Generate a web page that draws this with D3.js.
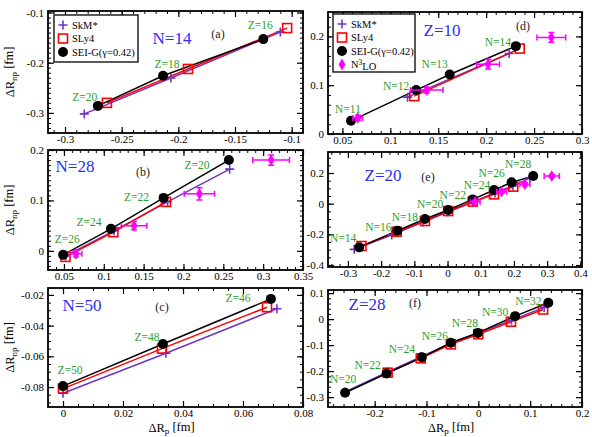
<!DOCTYPE html>
<html>
<head>
<meta charset="utf-8">
<script src="https://cdn.jsdelivr.net/npm/d3@7"></script>
<style>
  body { margin: 0; background: #fff; }
  text { font-family: "Liberation Serif", "DejaVu Serif", serif; }
</style>
</head>
<body>
<div class="chart"></div>
<script>
// SVG size
var svgWidth = 592;
var svgHeight = 437;

// ---- data: [dRp, dRnp] ----
// (a) N=14
var aSkm = [[-0.283, -0.302], [-0.2065, -0.2305], [-0.110, -0.139]];
var aSly = [[-0.263, -0.280], [-0.1915, -0.2125], [-0.104, -0.131]];
var aSei = [[-0.271, -0.286], [-0.2135, -0.226], [-0.125, -0.153]];
var aTags = ["Z=20", "Z=18", "Z=16"];
var aXTicks = [-0.3, -0.25, -0.2, -0.15, -0.1];
var aYTicks = [-0.3, -0.2, -0.1];

// (b) N=28
var bSkm = [[0.052, -0.010], [0.113, 0.040], [0.180, 0.097], [0.258, 0.162]];
var bSly = [[0.052, -0.012], [0.112, 0.037], [0.178, 0.097]];
var bSei = [[0.049, -0.008], [0.109, 0.0436], [0.175, 0.105], [0.257, 0.180]];
// [x, y, xerr, yerr]
var bN3lo = [[0.065, -0.006, 0.0075, 0.006], [0.138, 0.050, 0.016, 0.008], [0.220, 0.113, 0.019, 0.012], [0.310, 0.180, 0.023, 0.010]];
var bTags = ["Z=26", "Z=24", "Z=22", "Z=20"];
var bXTicks = [0.05, 0.1, 0.15, 0.2, 0.25, 0.3, 0.35];
var bYTicks = [0, 0.1, 0.2];

// (c) N=50
var cSkm = [[0, -0.084], [0.0343, -0.058], [0.0713, -0.029]];
var cSly = [[0, -0.081], [0.033, -0.055], [0.068, -0.028]];
var cSei = [[0, -0.0794], [0.0333, -0.052], [0.0693, -0.0226]];
var cTags = ["Z=50", "Z=48", "Z=46"];
var cXTicks = [0, 0.02, 0.04, 0.06, 0.08];
var cYTicks = [-0.08, -0.06, -0.04, -0.02];

// (d) Z=10
var dSkm = [[0.118, 0.0755], [0.224, 0.165]];
var dSly = [[0.125, 0.0776], [0.235, 0.175]];
var dSei = [[0.059, 0.027], [0.127, 0.090], [0.162, 0.122], [0.231, 0.180]];
var dN3lo = [[0.066, 0.033, 0.005, 0.006], [0.138, 0.090, 0.017, 0.006], [0.202, 0.143, 0.012, 0.010], [0.268, 0.198, 0.015, 0.010]];
var dTags = ["N=11", "N=12", "N=13", "N=14"];
var dXTicks = [0.05, 0.1, 0.15, 0.2, 0.25, 0.3];
var dYTicks = [0, 0.1, 0.2];

// (e) Z=20
var eSkm = [[-0.281, -0.298], [-0.168, -0.204], [-0.074, -0.120], [0.001, -0.054], [0.077, 0.011], [0.143, 0.070], [0.197, 0.115], [0.248, 0.167]];
var eSly = [[-0.259, -0.276], [-0.153, -0.183], [-0.068, -0.113], [0.002, -0.048], [0.076, 0.013], [0.140, 0.061], [0.198, 0.111]];
var eSei = [[-0.266, -0.285], [-0.151, -0.176], [-0.068, -0.100], [0.002, -0.041], [0.076, 0.028], [0.140, 0.089], [0.193, 0.139], [0.258, 0.180]];
var eN3lo = [[0.083, 0.013, 0.015, 0.010], [0.163, 0.078, 0.015, 0.010], [0.233, 0.126, 0.015, 0.010], [0.314, 0.180, 0.023, 0.010]];
var eTags = ["N=14", "N=16", "N=18", "N=20", "N=22", "N=24", "N=26", "N=28"];
var eXTicks = [-0.3, -0.2, -0.1, 0, 0.1, 0.2, 0.3, 0.4];
var eYTicks = [-0.4, -0.2, 0, 0.2];

// (f) Z=28
var fSkm = [[-0.257, -0.280], [-0.175, -0.203], [-0.111, -0.145], [-0.053, -0.093], [0.0, -0.053], [0.064, -0.004], [0.127, 0.045]];
var fSly = [[-0.175, -0.206], [-0.111, -0.151], [-0.053, -0.097], [0.0, -0.058], [0.063, -0.010], [0.125, 0.037]];
var fSei = [[-0.257, -0.283], [-0.177, -0.209], [-0.109, -0.147], [-0.053, -0.091], [-0.001, -0.053], [0.071, 0.0115], [0.135, 0.063]];
var fTags = ["N=20", "N=22", "N=24", "N=26", "N=28", "N=30", "N=32"];
var fXTicks = [-0.2, -0.1, 0, 0.1, 0.2];
var fYTicks = [-0.3, -0.2, -0.1, 0, 0.1];

// colours
var cSkmCol = "#6f35c8", cSlyCol = "#ff0000", cSeiCol = "#000000", cN3loCol = "#ff00ff";
var tagCol = "#2ca02c", titleCol = "#2b2bff";

// panel layout (pixel boxes and axis ranges)
var panels = [
  { name: "N=14", tag: "(a)", box: [48, 11, 303, 133], xd: [-0.315, -0.09], yd: [-0.34, -0.097],
    xt: aXTicks, yt: aYTicks, xm: 0.01, ym: 0.01, skm: aSkm, sly: aSly, sei: aSei, n3lo: null,
    tags: aTags, off: [[-13, -9], [4, -12], [-3, -14]], title: [124, 27], lab: [170, 23], legend: [54, 15, 84, 47], ytitle: true },
  { name: "N=28", tag: "(b)", box: [48, 150, 303, 270], xd: [0.03, 0.35], yd: [-0.038, 0.2],
    xt: bXTicks, yt: bYTicks, xm: 0.01, ym: 0.01, skm: bSkm, sly: bSly, sei: bSei, n3lo: bN3lo,
    tags: bTags, off: [[4, -16], [-22, -7], [-27, -1], [-32, 5]], title: [27, 16], lab: [95, 22], ytitle: true },
  { name: "N=50", tag: "(c)", box: [48, 288, 303, 407], xd: [-0.005, 0.08], yd: [-0.093, -0.0155],
    xt: cXTicks, yt: cYTicks, xm: 0.005, ym: 0.005, skm: cSkm, sly: cSly, sei: cSei, n3lo: null,
    tags: cTags, off: [[7, -16], [-16, -7], [-33, -1]], title: [34, 17], lab: [114, 19], ytitle: true, xtitle: true },
  { name: "Z=10", tag: "(d)", box: [328, 12, 582, 134], xd: [0.035, 0.3], yd: [0, 0.25],
    xt: dXTicks, yt: dYTicks, xm: 0.01, ym: 0.02, skm: dSkm, sly: dSly, sei: dSei, n3lo: dN3lo,
    tags: dTags, off: [[-3, -12], [-20, -4], [-15, -10], [-18, -4]], title: [114, 18], lab: [195, 14], legend: [333, 14, 82, 58] },
  { name: "Z=20", tag: "(e)", box: [328, 152, 582, 267], xd: [-0.36, 0.405], yd: [-0.413, 0.337],
    xt: eXTicks, yt: eYTicks, xm: 0.025, ym: 0.05, skm: eSkm, sly: eSly, sei: eSei, n3lo: eN3lo,
    tags: eTags, off: [[-16, -9], [-19, -4], [-20, -2], [-18, -6], [-20, -4], [-17, -5], [-20, -9], [-15, -12]], title: [55, 23], lab: [100, 25] },
  { name: "Z=28", tag: "(f)", box: [328, 290, 582, 407], xd: [-0.29, 0.2], yd: [-0.338, 0.112],
    xt: fXTicks, yt: fYTicks, xm: 0.02, ym: 0.02, skm: fSkm, sly: fSly, sei: fSei, n3lo: null,
    tags: fTags, off: [[-2, -14], [-19, -8], [-20, -8], [-16, -7], [-13, -10], [-20, -4], [-20, -2]], title: [39, 14], lab: [87, 13], xtitle: true }
];

var svg = d3.select(".chart")
  .append("svg")
  .attr("width", svgWidth)
  .attr("height", svgHeight);

var fmt = function(d) { return String(+d.toFixed(3)); };

function minorTicks(dom, step) {
  var lo = Math.min(dom[0], dom[1]), hi = Math.max(dom[0], dom[1]);
  return d3.range(Math.ceil(lo / step - 1e-6), Math.floor(hi / step + 1e-6) + 1)
    .map(function(i) { return +(i * step).toFixed(5); });
}

function drawMarker(g, kind, cx, cy) {
  if (kind === "skm") {
    g.append("path").attr("d", `M${cx - 4.5},${cy}H${cx + 4.5}M${cx},${cy - 4.5}V${cy + 4.5}`)
      .attr("stroke", cSkmCol).attr("stroke-width", 1.6).attr("fill", "none");
  } else if (kind === "sly") {
    g.append("rect").attr("x", cx - 4.5).attr("y", cy - 4.5).attr("width", 9).attr("height", 9)
      .attr("fill", "none").attr("stroke", cSlyCol).attr("stroke-width", 1.6);
  } else if (kind === "sei") {
    g.append("circle").attr("cx", cx).attr("cy", cy).attr("r", 5).attr("fill", cSeiCol);
  } else {
    g.append("path").attr("d", d3.symbol(d3.symbolDiamond, 40)())
      .attr("transform", `translate(${cx},${cy})`).attr("fill", cN3loCol);
  }
}

panels.forEach(function(p) {
  var x = d3.scaleLinear().domain(p.xd).range([p.box[0], p.box[2]]);
  var y = d3.scaleLinear().domain(p.yd).range([p.box[3], p.box[1]]);
  var g = svg.append("g");

  // axes: major + minor ticks on all four sides, pointing in
  var sides = [
    [d3.axisBottom, x, `translate(0,${p.box[3]})`, p.xt, p.xm, p.xd, true, 2],
    [d3.axisTop, x, `translate(0,${p.box[1]})`, p.xt, p.xm, p.xd, false, 2],
    [d3.axisLeft, y, `translate(${p.box[0]},0)`, p.yt, p.ym, p.yd, true, 4],
    [d3.axisRight, y, `translate(${p.box[2]},0)`, p.yt, p.ym, p.yd, false, 4]
  ];
  sides.forEach(function(s) {
    g.append("g").attr("transform", s[2])
      .call(s[0](s[1]).tickValues(minorTicks(s[5], s[4])).tickSize(-3).tickFormat(""))
      .call(function(sel) { sel.select(".domain").remove(); sel.selectAll("line").attr("stroke-width", 1); });
    g.append("g").attr("transform", s[2])
      .call(s[0](s[1]).tickValues(s[3]).tickSize(-6).tickPadding(s[7]).tickFormat(s[6] ? fmt : ""))
      .call(function(sel) {
        sel.select(".domain").remove();
        sel.selectAll("line").attr("stroke-width", 1.2);
        sel.selectAll("text").attr("fill", "#000").attr("font-size", 11)
          .attr("font-family", "'Liberation Serif', serif");
      });
  });

  // frame
  g.append("rect").attr("x", p.box[0]).attr("y", p.box[1])
    .attr("width", p.box[2] - p.box[0]).attr("height", p.box[3] - p.box[1])
    .attr("fill", "none").attr("stroke", "#000").attr("stroke-width", 1.8);

  var line = d3.line().x(function(d) { return x(d[0]); }).y(function(d) { return y(d[1]); });
  [[p.skm, cSkmCol], [p.sly, cSlyCol], [p.sei, cSeiCol]].forEach(function(s) {
    g.append("path").datum(s[0]).attr("d", line)
      .attr("fill", "none").attr("stroke", s[1]).attr("stroke-width", 1.5);
  });

  p.skm.forEach(function(d) { drawMarker(g, "skm", x(d[0]), y(d[1])); });
  p.sly.forEach(function(d) { drawMarker(g, "sly", x(d[0]), y(d[1])); });
  p.sei.forEach(function(d) { drawMarker(g, "sei", x(d[0]), y(d[1])); });

  if (p.n3lo) {
    p.n3lo.forEach(function(d) {
      var cx = x(d[0]), cy = y(d[1]);
      var x0 = x(d[0] - d[2]), x1 = x(d[0] + d[2]);
      var y0 = y(d[1] - d[3]), y1 = y(d[1] + d[3]);
      g.append("path")
        .attr("d", `M${x0},${cy}H${x1}M${x0},${cy - 3}V${cy + 3}M${x1},${cy - 3}V${cy + 3}` +
          `M${cx},${y0}V${y1}M${cx - 3},${y0}H${cx + 3}M${cx - 3},${y1}H${cx + 3}`)
        .attr("stroke", cN3loCol).attr("stroke-width", 1.5).attr("fill", "none");
      drawMarker(g, "n3lo", cx, cy);
    });
  }

  // nucleus labels next to the SEI-G points
  p.tags.forEach(function(t, i) {
    g.append("text")
      .attr("x", x(p.sei[i][0]) + p.off[i][0])
      .attr("y", y(p.sei[i][1]) + p.off[i][1])
      .attr("dy", "0.35em")
      .attr("text-anchor", "middle")
      .attr("font-size", 11.5)
      .attr("fill", tagCol)
      .text(t);
  });

  g.append("text")
    .attr("x", p.box[0] + p.title[0]).attr("y", p.box[1] + p.title[1])
    .attr("dy", "0.35em").attr("text-anchor", "middle")
    .attr("font-size", 17).attr("fill", titleCol).text(p.name);

  g.append("text")
    .attr("x", p.box[0] + p.lab[0]).attr("y", p.box[1] + p.lab[1])
    .attr("dy", "0.35em").attr("text-anchor", "middle")
    .attr("font-size", 12).attr("fill", "#222").text(p.tag);

  // legend
  if (p.legend) {
    var lg = svg.append("g");
    lg.append("rect").attr("x", p.legend[0]).attr("y", p.legend[1])
      .attr("width", p.legend[2]).attr("height", p.legend[3])
      .attr("fill", "#fff").attr("stroke", "#000").attr("stroke-width", 1.3);
    var items = [["skm", "SkM*"], ["sly", "SLy4"], ["sei", "SEI-G(\u03b3=0.42)"]];
    if (p.n3lo) items.push(["n3lo", "N3LO"]);
    items.forEach(function(it, i) {
      var yy = p.legend[1] + 10 + i * 13.5;
      drawMarker(lg, it[0], p.legend[0] + 9, yy);
      var t = lg.append("text").attr("x", p.legend[0] + 18).attr("y", yy).attr("dy", "0.35em")
        .attr("font-size", 10.5).attr("fill", "#000");
      if (it[0] === "n3lo") {
        t.append("tspan").text("N");
        t.append("tspan").attr("dy", "-0.45em").attr("font-size", 7.5).text("3");
        t.append("tspan").attr("dy", "0.45em").text("LO");
      } else {
        t.text(it[1]);
      }
    });
  }

  if (p.ytitle) {
    var yt = svg.append("text")
      .attr("transform", `translate(14,${(p.box[1] + p.box[3]) / 2}) rotate(-90)`)
      .attr("text-anchor", "middle").attr("font-size", 12.5).attr("fill", "#000");
    yt.append("tspan").text("\u0394R");
    yt.append("tspan").attr("dy", "0.3em").attr("font-size", 9).text("np");
    yt.append("tspan").attr("dy", "-0.3em").text(" [fm]");
  }
  if (p.xtitle) {
    var xt = svg.append("text")
      .attr("x", (p.box[0] + p.box[2]) / 2 - 4).attr("y", 432)
      .attr("text-anchor", "middle").attr("font-size", 12.5).attr("fill", "#000");
    xt.append("tspan").text("\u0394R");
    xt.append("tspan").attr("dy", "0.25em").attr("font-size", 9).text("p");
    xt.append("tspan").attr("dy", "-0.25em").text(" [fm]");
  }
});
</script>
</body>
</html>
